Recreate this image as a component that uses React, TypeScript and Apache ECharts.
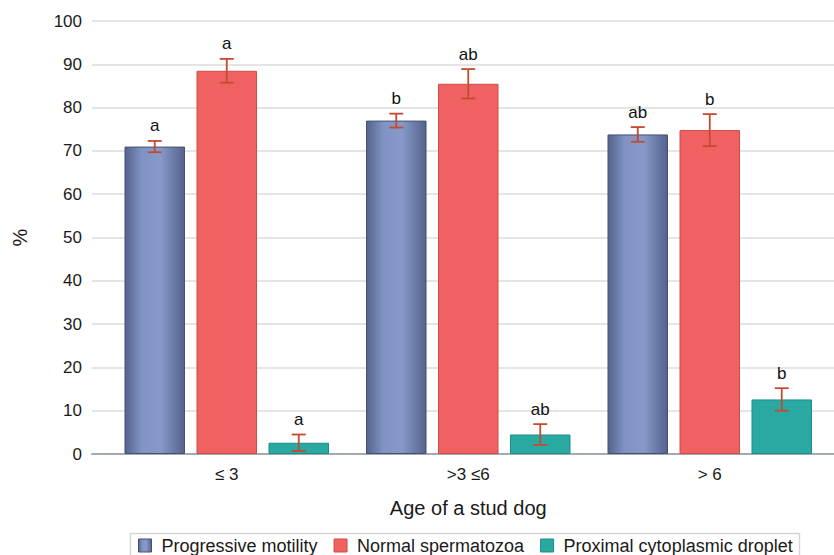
import React, { useEffect, useRef } from "react";
import * as echarts from "echarts";

const categories = ["≤ 3", ">3 ≤6", "> 6"];
const seriesNames = ["Progressive motility", "Normal spermatozoa", "Proximal cytoplasmic droplet"];
const progressive = [71, 77, 73.8];
const progressiveErr = [1.3, 1.6, 1.7];
const progressiveLetters = ["a", "b", "ab"];
const normal = [88.5, 85.5, 74.8];
const normalErr = [2.75, 3.4, 3.7];
const normalLetters = ["a", "ab", "b"];
const proximal = [2.6, 4.5, 12.6];
const proximalErr = [1.9, 2.4, 2.6];
const proximalLetters = ["a", "ab", "b"];
const yTicks = { min: 0, max: 100, interval: 10 };

const FONT = '"Liberation Sans", Arial, sans-serif';

export default function App() {
  const ref = useRef<HTMLDivElement>(null);
  useEffect(() => {
    if (!ref.current) return;
    const chart = echarts.init(ref.current, null, { renderer: "svg" });

    const blueGrad = {
      type: "linear", x: 0, y: 0, x2: 1, y2: 0,
      colorStops: [
        { offset: 0, color: "#55638c" },
        { offset: 0.28, color: "#8093c3" },
        { offset: 0.6, color: "#8699c9" },
        { offset: 1, color: "#55638c" },
      ],
    };
    const styles = [
      { color: blueGrad, borderColor: "#45516f", borderWidth: 1 },
      { color: "#f06262", borderColor: "#d04a44", borderWidth: 1 },
      { color: "#2aa9a3", borderColor: "#1d8c86", borderWidth: 1 },
    ];
    const values = [progressive, normal, proximal];
    const errs = [progressiveErr, normalErr, proximalErr];
    const letters = [progressiveLetters, normalLetters, proximalLetters];
    const barWidth = 60.5;
    const step = 72;
    const errColor = "#c64a30";

    const barSeries = values.map((v, s) => ({
      name: seriesNames[s],
      type: "bar",
      xAxisIndex: 1,
      yAxisIndex: 1,
      barWidth,
      barGap: "19%",
      data: v,
      itemStyle: styles[s],
      z: 2,
    }));

    const errSeries = values.map((v, s) => ({
      type: "custom",
      xAxisIndex: 1,
      yAxisIndex: 1,
      z: 5,
      data: v.map((val, i) => [i, val, errs[s][i]]),
      encode: { x: 0, y: 1 },
      renderItem: (params: any, api: any) => {
        const c = api.value(0);
        const val = api.value(1);
        const e = api.value(2);
        const x0 = api.coord([c, 0])[0] + (s - 1) * step;
        const top = api.coord([c, val + e])[1];
        const bot = api.coord([c, val - e])[1];
        const ls = { stroke: errColor, lineWidth: 1.8 };
        return {
          type: "group",
          children: [
            { type: "line", shape: { x1: x0, y1: top, x2: x0, y2: bot }, style: ls },
            { type: "line", shape: { x1: x0 - 7, y1: top, x2: x0 + 7, y2: top }, style: ls },
            { type: "line", shape: { x1: x0 - 7, y1: bot, x2: x0 + 7, y2: bot }, style: ls },
            {
              type: "text",
              x: x0,
              y: top - 15,
              style: {
                text: letters[s][params.dataIndex],
                fill: "#111111",
                fontSize: 17,
                fontFamily: FONT,
                align: "center",
                verticalAlign: "middle",
              },
            },
          ],
        };
      },
    }));

    const option: any = {
      animation: false,
      grid: [
        { left: 92, right: 0, top: 21, height: 433 },
        { left: 106, width: 724.5, top: 21, height: 433 },
      ],
      xAxis: [
        {
          type: "value", gridIndex: 0, min: 0, max: 1,
          axisLine: { show: true, lineStyle: { color: "#a2aab2", width: 2 } },
          axisTick: { show: false }, axisLabel: { show: false }, splitLine: { show: false },
        },
        {
          type: "category", gridIndex: 1, data: categories,
          axisLine: { show: false }, axisTick: { show: false },
          axisLabel: { margin: 12, fontSize: 17, color: "#1a1a1a", fontFamily: FONT },
          name: "Age of a stud dog", nameLocation: "middle", nameGap: 44,
          nameTextStyle: { fontSize: 20, color: "#1a1a1a", fontFamily: FONT },
        },
      ],
      yAxis: [
        {
          type: "value", gridIndex: 0, min: yTicks.min, max: yTicks.max, interval: yTicks.interval,
          axisLine: { show: false }, axisTick: { show: false },
          axisLabel: { margin: 10, fontSize: 17, color: "#1a1a1a", fontFamily: FONT },
          splitLine: { lineStyle: { color: "#dddddd", width: 1.5 } },
          name: "%", nameLocation: "middle", nameGap: 62, nameRotate: 90,
          nameTextStyle: { fontSize: 20, color: "#1a1a1a", fontFamily: FONT },
        },
        { type: "value", gridIndex: 1, min: yTicks.min, max: yTicks.max, show: false },
      ],
      legend: {
        left: 138,
        top: 535.5,
        padding: 0,
        itemWidth: 13,
        itemHeight: 13,
        itemGap: 16,
        icon: "rect",
        textStyle: { fontSize: 18, color: "#1a1a1a", fontFamily: FONT, lineHeight: 20, padding: [0, 0, 0, 5] },
        data: seriesNames.map((n, s) => ({ name: n, itemStyle: styles[s] })),
      },
      graphic: [
        {
          type: "rect",
          shape: { x: 130.5, y: 533.5, width: 669, height: 40 },
          style: { fill: "none", stroke: "#d6d6d6", lineWidth: 1.5 },
          silent: true,
        },
      ],
      series: [...barSeries, ...errSeries],
    };
    chart.setOption(option);
    return () => chart.dispose();
  }, []);
  return (
    <div
      ref={ref}
      style={{ position: "absolute", left: 0, top: 0, width: 834, height: 555, background: "#ffffff" }}
    />
  );
}
